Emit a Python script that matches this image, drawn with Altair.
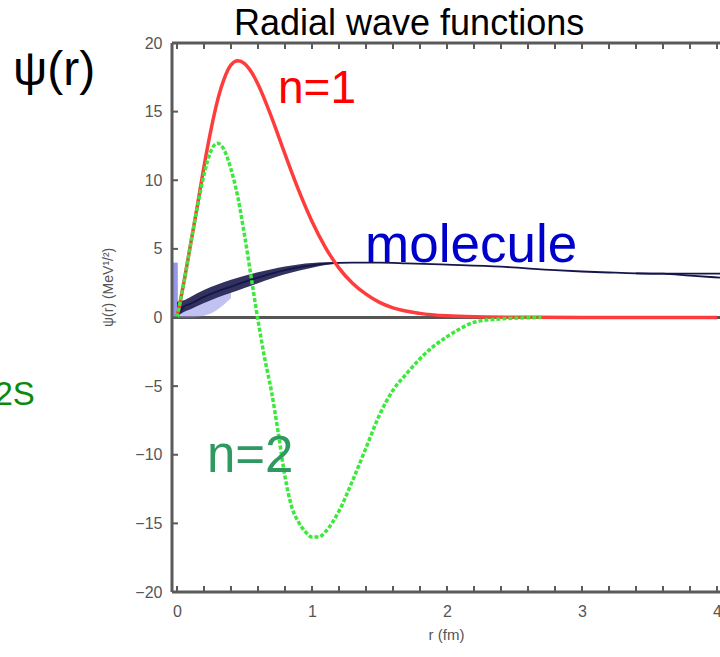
import altair as alt
import pandas as pd

# ---- data ----
r_n1 = [0, 0.05, 0.1, 0.15, 0.2, 0.25, 0.3, 0.35, 0.4, 0.45, 0.5, 0.55, 0.6, 0.7, 0.8,
        0.9, 1.0, 1.1, 1.2, 1.3, 1.4, 1.5, 1.6, 1.8, 2.0, 2.2, 2.5, 3.0, 3.5, 4.0]
psi_n1 = [0, 2.5, 5.3, 8.1, 11.0, 13.6, 15.8, 17.4, 18.4, 18.7, 18.5, 17.9, 17.0, 14.6, 11.9,
          9.3, 7.0, 5.1, 3.6, 2.5, 1.7, 1.1, 0.7, 0.3, 0.12, 0.05, 0.02, 0, 0, 0]

r_n2 = [0, 0.05, 0.1, 0.15, 0.2, 0.25, 0.3, 0.35, 0.4, 0.45, 0.5, 0.55, 0.6, 0.65, 0.7,
        0.75, 0.8, 0.85, 0.9, 0.95, 1.0, 1.05, 1.1, 1.2, 1.3, 1.4, 1.5, 1.6, 1.7, 1.8,
        1.9, 2.0, 2.1, 2.2, 2.4, 2.7]
psi_n2 = [0, 2.5, 5.3, 8.0, 10.4, 12.1, 12.7, 12.2, 10.8, 8.8, 6.0, 2.9, -0.2, -3.0, -5.4,
          -8.4, -11.6, -13.8, -14.9, -15.6, -16.0, -16.0, -15.6, -14.1, -11.9, -9.5, -7.1, -5.3, -4.1, -3.0,
          -2.1, -1.4, -0.8, -0.35, -0.1, 0]

r_mol = [0, 0.05, 0.1, 0.2, 0.3, 0.4, 0.5, 0.6, 0.7, 0.8, 0.9, 1.0, 1.1, 1.2, 1.3, 1.5,
         1.7, 2.0, 2.4, 2.8, 3.0, 3.2, 3.4, 3.6, 3.8, 4.03]
psi_mol = [0, 0.8, 1.0, 1.5, 1.9, 2.25, 2.6, 2.9, 3.2, 3.45, 3.65, 3.8, 3.92, 3.98, 4.0, 4.0,
           3.95, 3.85, 3.7, 3.45, 3.35, 3.28, 3.22, 3.2, 3.2, 3.2]
r_mol2 = [3.4, 3.6, 3.8, 4.03]
psi_mol2 = [3.22, 3.19, 3.05, 2.9]

r_band = [0, 0.05, 0.1, 0.2, 0.3, 0.4, 0.5, 0.6, 0.7, 0.8, 0.9, 1.0, 1.1, 1.2]
band_low = [0.1, 0.4, 0.6, 1.05, 1.45, 1.8, 2.15, 2.5, 2.85, 3.15, 3.4, 3.62, 3.82, 3.94]
band_high = [1.15, 1.25, 1.5, 2.0, 2.4, 2.75, 3.05, 3.3, 3.52, 3.72, 3.87, 3.97, 4.02, 4.02]

x_tick_vals = [round(0.2 * i, 1) for i in range(21)]
y_tick_vals = [-20, -15, -10, -5, 0, 5, 10, 15, 20]
x_labels = [0, 1, 2, 3, 4]

X0, X1 = -0.037, 4.022
Y0, Y1 = -20, 20
FONT = "Liberation Sans"
AX = "#5a5a5a"
LAB = "#555555"

xs = alt.Scale(domain=[X0, X1], nice=False, zero=False)
ys = alt.Scale(domain=[Y0, Y1], nice=False, zero=False)
x_axis = alt.Axis(values=x_labels, ticks=False, domain=False, grid=False, labelPadding=11,
                  labelFontSize=16, labelColor=LAB, labelFont=FONT, titleFont=FONT,
                  titleFontSize=15, titleColor=LAB, titleFontWeight="normal", titlePadding=8,
                  format="d")
y_axis = alt.Axis(values=y_tick_vals, ticks=False, domain=False, grid=False, labelPadding=10,
                  labelFontSize=16, labelColor=LAB, labelFont=FONT, labelFlush=False)


def X(field="r"):
    return alt.X(f"{field}:Q", scale=xs, axis=x_axis, title="r (fm)")


def Y(field="psi"):
    return alt.Y(f"{field}:Q", scale=ys, axis=y_axis, title="")


df1 = pd.DataFrame({"r": r_n1, "psi": psi_n1})
df2 = pd.DataFrame({"r": r_n2, "psi": psi_n2})
dfm = pd.DataFrame({"r": r_mol, "psi": psi_mol})
dfm2 = pd.DataFrame({"r": r_mol2, "psi": psi_mol2})
dfb = pd.DataFrame({"r": r_band, "psi": band_low, "hi": band_high})

# inward ticks
tick_len_x = 6 / 135.0
tick_len_y = 6 / 13.7
top_ticks = pd.DataFrame({"r": x_tick_vals, "psi": [Y1] * 21, "p2": [Y1 - tick_len_y] * 21})
bot_ticks = pd.DataFrame({"r": x_tick_vals, "psi": [Y0] * 21, "p2": [Y0 + tick_len_y] * 21})
left_ticks = pd.DataFrame({"r": [X0] * 9, "r2": [X0 + tick_len_x] * 9, "psi": y_tick_vals})

ticks_top = alt.Chart(top_ticks).mark_rule(color=AX, strokeWidth=2).encode(
    x=X(), y=Y(), y2="p2:Q")
ticks_bot = alt.Chart(bot_ticks).mark_rule(color=AX, strokeWidth=2).encode(
    x=X(), y=Y(), y2="p2:Q")
ticks_left = alt.Chart(left_ticks).mark_rule(color=AX, strokeWidth=2).encode(
    x=X(), x2="r2:Q", y=Y())

# frame lines (left, top, bottom)
frame_h = alt.Chart(pd.DataFrame({"r": [X0, X0], "r2": [X1, X1], "psi": [Y0, Y1]})).mark_rule(
    color=AX, strokeWidth=3).encode(x=X(), x2="r2:Q", y=Y())
frame_v = alt.Chart(pd.DataFrame({"r": [X0], "psi": [Y0], "p2": [Y1]})).mark_rule(
    color=AX, strokeWidth=3).encode(x=X(), y=Y(), y2="p2:Q")

zero = alt.Chart(pd.DataFrame({"psi": [0]})).mark_rule(color="#555555", strokeWidth=3).encode(
    y=Y())

blue_strip = alt.Chart(pd.DataFrame({"r": [X0], "r2": [0.006], "psi": [0], "p2": [4.0]})).mark_rect(
    color="#8c8ce6", opacity=0.9).encode(x=X(), x2="r2:Q", y=Y(), y2="p2:Q")

band = alt.Chart(dfb).mark_area(color="#1c1c4e", opacity=0.9, interpolate="monotone").encode(
    x=X(), y=Y(), y2="hi:Q")
halo = alt.Chart(pd.DataFrame({"r": [0, 0.1, 0.25, 0.4], "psi": [0, 0, 0.3, 1.4],
                               "hi": [0.6, 0.8, 1.3, 1.9]})).mark_area(
    color="#9090e8", opacity=0.55, interpolate="monotone").encode(x=X(), y=Y(), y2="hi:Q")

mol = alt.Chart(dfm).mark_line(color="#15154a", strokeWidth=1.8, interpolate="monotone").encode(
    x=X(), y=Y())
mol2 = alt.Chart(dfm2).mark_line(color="#15154a", strokeWidth=1.8, interpolate="monotone").encode(
    x=X(), y=Y())

red = alt.Chart(df1).mark_line(color="#ff3c3c", strokeWidth=3.5, interpolate="monotone").encode(
    x=X(), y=Y())
green = alt.Chart(df2).mark_line(color="#3ce83c", strokeWidth=3.5, strokeDash=[4, 2],
                                 interpolate="monotone").encode(x=X(), y=Y())

# annotations
ann = pd.DataFrame({
    "r": [1.719, 0.748, 1.393, 0.222, -1.215, -1.352],
    "psi": [20.55, 15.63, 4.04, -11.26, 16.94, -6.38],
    "label": ["Radial wave functions", "n=1", "molecule", "n=2", "ψ(r)", "2S"],
    "color": ["#000000", "#ff0000", "#0000cc", "#2e9960", "#000000", "#0a8a0a"],
    "size": [36, 46, 53, 51, 48, 33],
    "align": ["center", "left", "left", "left", "left", "left"],
})
texts = []
for i in range(len(ann)):
    row = ann.iloc[[i]]
    texts.append(
        alt.Chart(row).mark_text(font=FONT, fontSize=int(row["size"].iloc[0]),
                                 color=row["color"].iloc[0], align=row["align"].iloc[0],
                                 baseline="alphabetic").encode(x=X(), y=Y(), text="label:N")
    )

# rotated y-axis title
ytitle = alt.Chart(pd.DataFrame({"r": [-0.50], "psi": [2.2], "label": ["ψ(r) (MeV¹/²)"]})).mark_text(
    font=FONT, fontSize=14, color=LAB, angle=270, align="center", baseline="middle"
).encode(x=X(), y=Y(), text="label:N")

chart = alt.layer(zero, blue_strip, halo, band, mol, mol2, red, green,
                  frame_h, frame_v, ticks_top, ticks_bot, ticks_left, ytitle, *texts).properties(
    width=548, height=549,
    autosize=alt.AutoSizeParams(type="none"),
    padding={"left": 172, "top": 43, "right": 0, "bottom": 65},
).configure_view(stroke=None).configure(background="white")

chart.save("out.html", embed_options={"renderer": "svg", "actions": False})
